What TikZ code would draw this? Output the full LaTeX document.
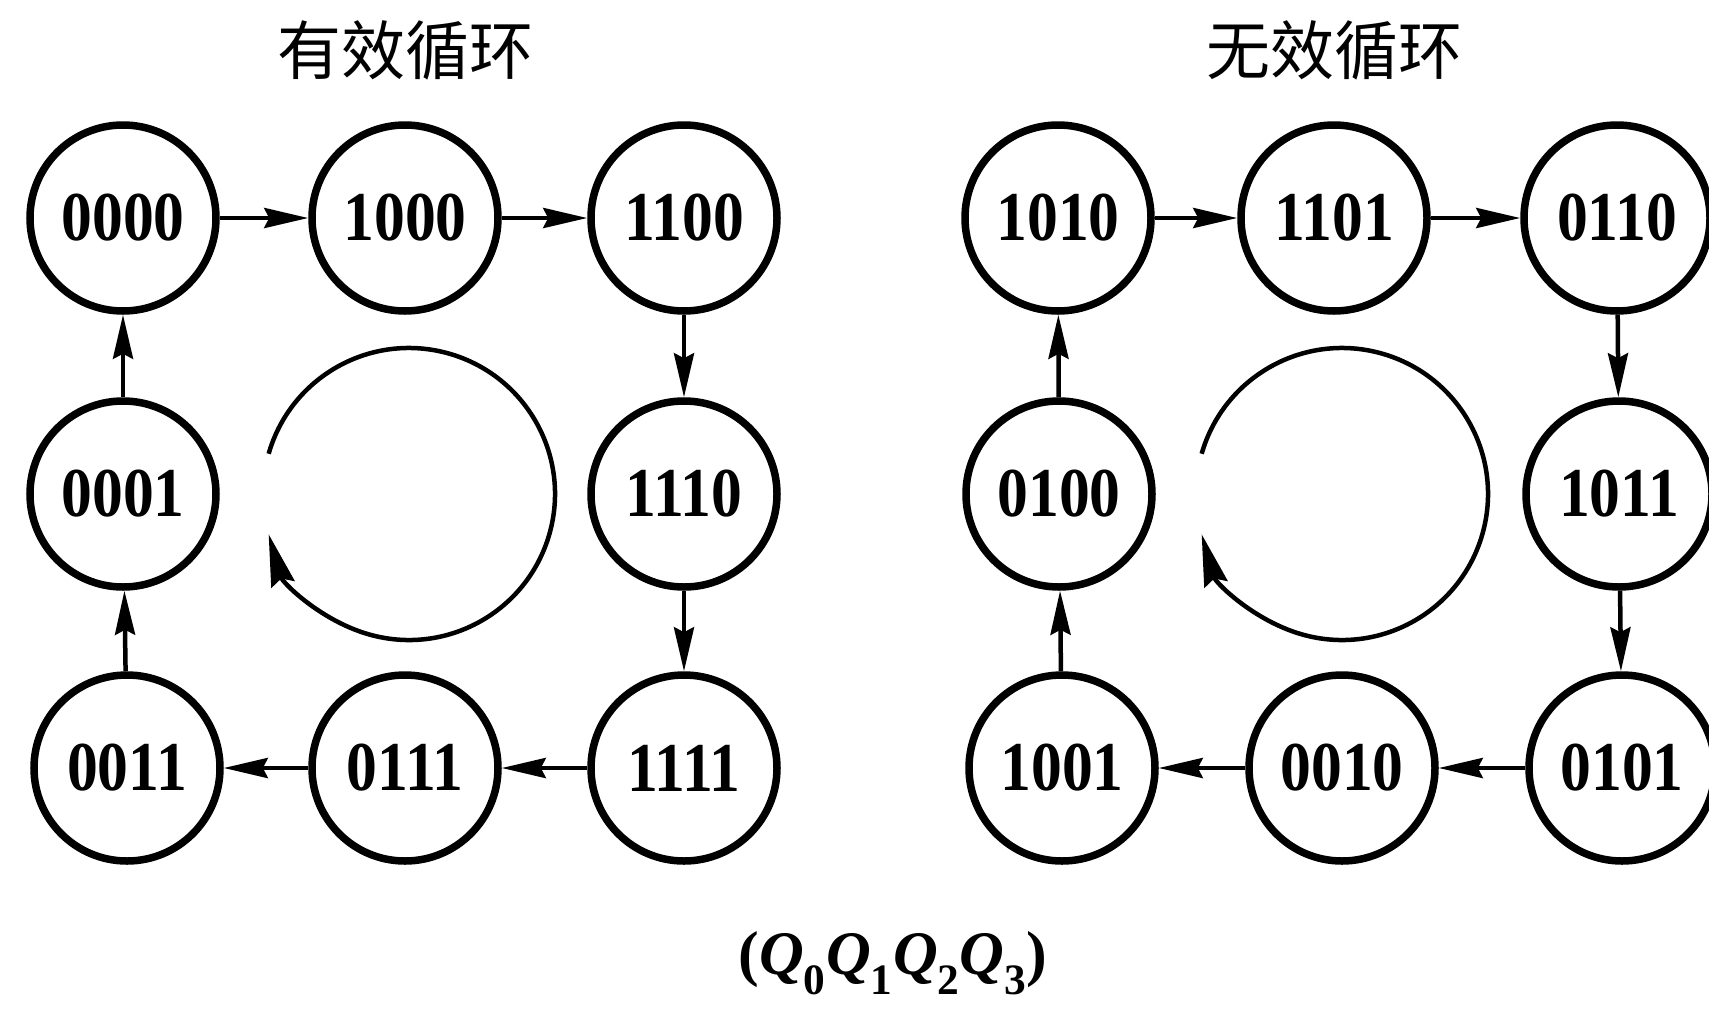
\documentclass[tikz,border=0pt]{standalone}
\usepackage{fontspec}
\setmainfont{Liberation Serif}
\newfontfamily\dig[FakeStretch=0.88]{Liberation Serif}
\newfontfamily\cjk{Noto Sans CJK SC}
\usetikzlibrary{arrows.meta}
\begin{document}
\begin{tikzpicture}[x=1pt,y=-1pt,
  st/.style={circle,draw,line width=7.5pt,minimum size=186pt,inner sep=0pt,
    font=\dig\fontsize{70}{70}\selectfont\bfseries},
  tr/.style={line width=4.5pt,-{Stealth[length=44pt,width=20pt,inset=5pt]}},
  loopc/.style={line width=4.5pt,-{Stealth[length=52pt,width=24pt,inset=6pt]}},
  ttl/.style={font=\cjk\fontsize{64}{64}\selectfont},
  ]
\useasboundingbox (0,0) rectangle (1709,1021);
% titles
\node[ttl] (t1) at (405,50) {有效循环};
\node[ttl] (t2) at (1334,50) {无效循环};
% left cycle
\node[st] (a1) at (123,218) {0000};
\node[st] (a2) at (405,218) {1000};
\node[st] (a3) at (684,218) {1100};
\node[st] (a4) at (684,494) {1110};
\node[st] (a5) at (684,768) {1111};
\node[st] (a6) at (405,768) {0111};
\node[st] (a7) at (127,768) {0011};
\node[st] (a8) at (123,494) {0001};
\foreach \u/\v in {a1/a2,a2/a3,a3/a4,a4/a5,a5/a6,a6/a7,a7/a8,a8/a1}
  \draw[tr] (\u) -- (\v);
% right cycle
\node[st] (b1) at (1058,218) {1010};
\node[st] (b2) at (1334,218) {1101};
\node[st] (b3) at (1617,218) {0110};
\node[st] (b4) at (1619,494) {1011};
\node[st] (b5) at (1622,768) {0101};
\node[st] (b6) at (1342,768) {0010};
\node[st] (b7) at (1062,768) {1001};
\node[st] (b8) at (1059,494) {0100};
\foreach \u/\v in {b1/b2,b2/b3,b3/b4,b4/b5,b5/b6,b6/b7,b7/b8,b8/b1}
  \draw[tr] (\u) -- (\v);
% rotation indicators
\draw[loopc] (409,494) ++(-164:146) arc[start angle=-164,end angle=164,radius=146];
\draw[loopc] (1342,494) ++(-164:146) arc[start angle=-164,end angle=164,radius=146];
% label
\node (lab) at (893,963) {\fontsize{62}{62}\selectfont\bfseries(\textit{Q}\textsubscript{0}\textit{Q}\textsubscript{1}\textit{Q}\textsubscript{2}\textit{Q}\textsubscript{3})};
\end{tikzpicture}
\end{document}
